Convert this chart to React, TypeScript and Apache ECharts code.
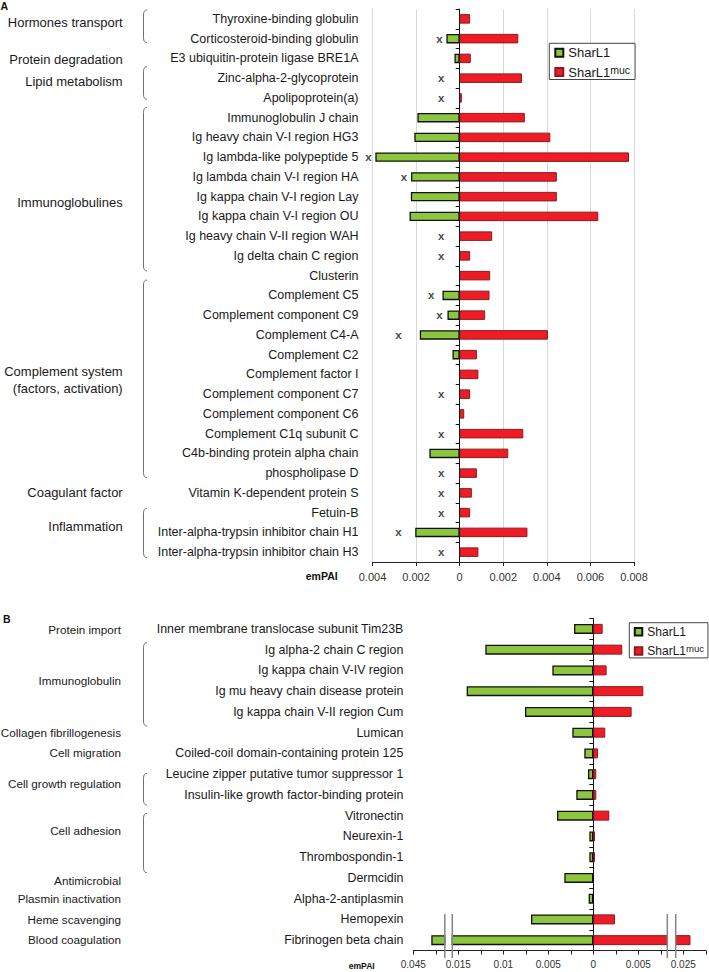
import React, { useEffect, useRef } from 'react';
import * as echarts from 'echarts';

const FONT = '"Liberation Sans", Arial, Helvetica, sans-serif';
const GREEN = '#8CC63F';
const RED = '#EE1C25';

// ---------------- Panel A data ----------------
const categoriesA = [
  'Thyroxine-binding globulin',
  'Corticosteroid-binding globulin',
  'E3 ubiquitin-protein ligase BRE1A',
  'Zinc-alpha-2-glycoprotein',
  'Apolipoprotein(a)',
  'Immunoglobulin J chain',
  'Ig heavy chain V-I region HG3',
  'Ig lambda-like polypeptide 5',
  'Ig lambda chain V-I region HA',
  'Ig kappa chain V-I region Lay',
  'Ig kappa chain V-I region OU',
  'Ig heavy chain V-II region WAH',
  'Ig delta chain C region',
  'Clusterin',
  'Complement C5',
  'Complement component C9',
  'Complement C4-A',
  'Complement C2',
  'Complement factor I',
  'Complement component C7',
  'Complement component C6',
  'Complement C1q subunit C',
  'C4b-binding protein alpha chain',
  'phospholipase D',
  'Vitamin K-dependent protein S',
  'Fetuin-B',
  'Inter-alpha-trypsin inhibitor chain H1',
  'Inter-alpha-trypsin inhibitor chain H3',
];
// emPAI of SharL1 (drawn to the left)
const sharL1A: (number | null)[] = [
  null, 0.00061, 0.00024, null, null, 0.00194, 0.00208, 0.00387, 0.00223, 0.00224,
  0.0023, null, null, null, 0.00079, 0.00056, 0.00183, 0.00033, null, null,
  null, null, 0.00139, null, null, null, 0.00204, null,
];
// emPAI of SharL1muc (drawn to the right)
const sharL1mucA: (number | null)[] = [
  0.00048, 0.00269, 0.00051, 0.00286, 0.0001, 0.00299, 0.00416, 0.00777, 0.00446, 0.00446,
  0.00636, 0.00149, 0.00048, 0.0014, 0.00137, 0.00117, 0.00405, 0.00079, 0.00086, 0.00048,
  0.00021, 0.00292, 0.00223, 0.00079, 0.00056, 0.00048, 0.00311, 0.00086,
];
// "x" marks (position on the emPAI axis)
const xMarksA: (number | null)[] = [
  null, -0.00093, null, -0.00085, -0.00085, null, null, -0.00419, -0.00256, null,
  null, -0.00085, -0.00085, null, -0.00131, -0.00093, -0.00281, null, null, -0.00085,
  null, -0.00085, null, -0.00085, -0.00085, -0.00085, -0.00281, -0.00085,
];
const axisMinA = -0.004;
const axisMaxA = 0.008;
const axisStepA = 0.002;

// ---------------- Panel B data ----------------
const categoriesB = [
  'Inner membrane translocase subunit Tim23B',
  'Ig alpha-2 chain C region',
  'Ig kappa chain V-IV region',
  'Ig mu heavy chain disease protein',
  'Ig kappa chain V-II region Cum',
  'Lumican',
  'Coiled-coil domain-containing protein 125',
  'Leucine zipper putative tumor suppressor 1',
  'Insulin-like growth factor-binding protein',
  'Vitronectin',
  'Neurexin-1',
  'Thrombospondin-1',
  'Dermcidin',
  'Alpha-2-antiplasmin',
  'Hemopexin',
  'Fibrinogen beta chain',
];
const sharL1B: (number | null)[] = [
  0.00214, 0.012, 0.00455, 0.01407, 0.00759, 0.00233, 0.001, 0.00059, 0.00189, 0.00403,
  0.00044, 0.00044, 0.00322, 0.00052, 0.00692, 0.043,
];
const sharL1mucB: (number | null)[] = [
  0.00104, 0.00322, 0.00148, 0.00556, 0.00426, 0.00133, 0.00052, 0.00033, 0.00033, 0.00178,
  0.00019, 0.00019, null, null, 0.00241, 0.0258,
];
// broken axis: tick and label values of the three segments
const ticksBLeft = [-0.045, -0.0425];
const labelsBLeft = [-0.045];
const ticksBMain = [-0.015, -0.0125, -0.01, -0.0075, -0.005, -0.0025, 0, 0.0025, 0.005, 0.0075];
const labelsBMain = [-0.015, -0.01, -0.005, 0, 0.005];
const ticksBRight = [0.025, 0.0275];
const labelsBRight = [0.025];

// ---------------- Annotation text ----------------
const groupsA = [
  { text: 'Hormones transport', y: 22 },
  { text: 'Protein degradation', y: 59 },
  { text: 'Lipid metabolism', y: 81.5 },
  { text: 'Immunoglobulines', y: 202 },
  { text: 'Complement system\n(factors, activation)', y: 379.5 },
  { text: 'Coagulant factor', y: 492.5 },
  { text: 'Inflammation', y: 526.5 },
];
const bracketsA = [
  [10, 42.7], [66.7, 99.3], [107.3, 271], [280, 477.7], [508.3, 557.7],
];
const groupsB = [
  { text: 'Protein import', y: 629.3 },
  { text: 'Immunoglobulin', y: 680 },
  { text: 'Collagen fibrillogenesis', y: 732.7 },
  { text: 'Cell migration', y: 752.5 },
  { text: 'Cell growth regulation', y: 783 },
  { text: 'Cell adhesion', y: 830.7 },
  { text: 'Antimicrobial', y: 880.7 },
  { text: 'Plasmin inactivation', y: 898.3 },
  { text: 'Heme scavenging', y: 919.3 },
  { text: 'Blood coagulation', y: 939.5 },
];
const bracketsB = [
  [642.7, 726], [773.3, 805], [813.3, 872.7],
];

// ---------------- Layout ----------------
const GA = { left: 372.5, top: 9, width: 261.5, height: 553 };
const B_TOP = 618.5;
const B_H = 332;
const B_ZERO_PX = 593.3;
const B_PX_PER_UNIT = 9000;
const BL = { left: 413.3, width: 31.5 };
const BM = { left: 452.3, width: 215 };
const BR = { left: 675.7, width: 30.1 };
const BR_ANCHOR_PX = 683.3; // position of 0.025

const absFmt = (v: number) => String(Math.abs(+Number(v).toFixed(5)));

function bracket(x: number, y0: number, y1: number) {
  const st = { stroke: '#6e6e6e', lineWidth: 1, fill: null as any };
  return {
    type: 'group',
    children: [
      { type: 'bezierCurve', shape: { x1: x + 3.5, y1: y0, cpx1: x, cpy1: y0, x2: x, y2: y0 + 5 }, style: st },
      { type: 'line', shape: { x1: x, y1: y0 + 5, x2: x, y2: y1 - 5 }, style: st },
      { type: 'bezierCurve', shape: { x1: x, y1: y1 - 5, cpx1: x, cpy1: y1, x2: x + 3.5, y2: y1 }, style: st },
    ],
  };
}

function groupText(text: string, x: number, y: number, size: number) {
  return {
    type: 'text',
    x,
    y,
    style: {
      text,
      fontFamily: FONT,
      fontSize: size,
      lineHeight: 17,
      fill: '#1a1a1a',
      align: 'right',
      verticalAlign: 'middle',
    },
  };
}

function buildOption() {
  const greenStyle = { color: GREEN, borderColor: '#111', borderWidth: 1.3 };
  const redStyle = { color: RED, borderColor: '#8e1a1e', borderWidth: 1 };
  const neg = (arr: (number | null)[]) => arr.map((v) => (v == null ? '-' : -v));
  const pos = (arr: (number | null)[]) => arr.map((v) => (v == null ? '-' : v));

  const bMainMin = (BM.left - B_ZERO_PX) / B_PX_PER_UNIT;
  const bMainMax = (BM.left + BM.width - B_ZERO_PX) / B_PX_PER_UNIT;
  const bLeftMin = labelsBLeft[0];
  const bLeftMax = bLeftMin + BL.width / B_PX_PER_UNIT;
  const bRightMin = labelsBRight[0] - (BR_ANCHOR_PX - BR.left) / B_PX_PER_UNIT;
  const bRightMax = bRightMin + BR.width / B_PX_PER_UNIT;

  const xAxisB = (gridIndex: number, min: number, max: number, ticks: number[], labels: number[]) => ({
    type: 'value',
    gridIndex,
    min,
    max,
    axisLine: { show: true, onZero: false, lineStyle: { color: '#222', width: 1 } },
    axisTick: { show: true, length: 4, customValues: ticks, lineStyle: { color: '#222' } },
    axisLabel: {
      customValues: labels,
      formatter: absFmt,
      fontFamily: FONT,
      fontSize: 10,
      color: '#333',
      margin: 9,
    },
    splitLine: { show: false },
  });

  const labelAxis = (gridIndex: number, data: string[], margin: number, size: number) => ({
    type: 'category',
    gridIndex,
    position: 'left',
    inverse: true,
    data,
    axisLine: { show: false, onZero: false },
    axisTick: { show: false },
    axisLabel: { margin, fontFamily: FONT, fontSize: size, color: '#1a1a1a' },
  });
  const zeroAxis = (gridIndex: number, data: string[]) => ({
    type: 'category',
    gridIndex,
    position: 'left',
    inverse: true,
    data,
    axisLine: { show: true, onZero: true, lineStyle: { color: '#111', width: 1 } },
    axisTick: { show: true, length: 4, lineStyle: { color: '#111' } },
    axisLabel: { show: false },
  });

  const legend = (left: number, top: number, big: number, small: number, lh: number, gap: number, pad: number[], iw: number) => ({
    orient: 'vertical',
    left,
    top,
    data: ['SharL1', 'SharL1muc'],
    icon: 'rect',
    itemWidth: iw,
    itemHeight: iw,
    itemGap: gap,
    padding: pad,
    borderColor: '#444',
    borderWidth: 1,
    backgroundColor: '#fff',
    selectedMode: false,
    formatter: (name: string) => (name === 'SharL1muc' ? '{m|SharL1}{s|muc}' : '{m|SharL1}'),
    textStyle: {
      fontFamily: FONT,
      color: '#1a1a1a',
      rich: {
        m: { fontFamily: FONT, fontSize: big, lineHeight: lh, verticalAlign: 'middle', color: '#1a1a1a' },
        s: { fontFamily: FONT, fontSize: small, lineHeight: 2, verticalAlign: 'top', color: '#1a1a1a' },
      },
    },
  });

  const yGap = B_TOP + B_H;
  const breakX = [BL.left + BL.width, BM.left, BM.left + BM.width, BR.left];

  const graphic: any[] = [
    { type: 'text', x: 0.5, y: 6, style: { text: 'A', fontFamily: FONT, fontWeight: 'bold', fontSize: 10.5, fill: '#111', verticalAlign: 'middle' } },
    { type: 'text', x: 3, y: 619, style: { text: 'B', fontFamily: FONT, fontWeight: 'bold', fontSize: 10.5, fill: '#111', verticalAlign: 'middle' } },
    { type: 'text', x: 321.7, y: 576, style: { text: 'emPAI', fontFamily: FONT, fontWeight: 'bold', fontSize: 10.5, fill: '#111', align: 'center', verticalAlign: 'middle' } },
    { type: 'text', x: 361.7, y: 965.5, style: { text: 'emPAI', fontFamily: FONT, fontWeight: 'bold', fontSize: 8.6, fill: '#111', align: 'center', verticalAlign: 'middle' } },
    ...groupsA.map((g) => groupText(g.text, 122.7, g.y, 13)),
    ...groupsB.map((g) => groupText(g.text, 121, g.y, 11.7)),
    ...bracketsA.map(([a, b]) => bracket(143.5, a, b)),
    ...bracketsB.map(([a, b]) => bracket(143.5, a, b)),
    { type: 'line', z: 50, shape: { x1: breakX[0], y1: yGap, x2: breakX[1], y2: yGap }, style: { stroke: '#222', lineWidth: 1 } },
    { type: 'line', z: 50, shape: { x1: breakX[2], y1: yGap, x2: breakX[3], y2: yGap }, style: { stroke: '#222', lineWidth: 1 } },
    ...breakX.map((x) => ({ type: 'line', z: 100, shape: { x1: x, y1: 914, x2: x, y2: 958 }, style: { stroke: '#858585', lineWidth: 1.5 } })),
  ];

  const barsB = (xi: number, yi: number) => [
    { name: 'SharL1', type: 'bar', xAxisIndex: xi, yAxisIndex: yi, data: neg(sharL1B), barWidth: 10, barGap: '-100%', itemStyle: greenStyle, clip: true },
    { name: 'SharL1muc', type: 'bar', xAxisIndex: xi, yAxisIndex: yi, data: pos(sharL1mucB), barWidth: 10, barGap: '-100%', itemStyle: redStyle, clip: true },
  ];

  return {
    animation: false,
    backgroundColor: '#fff',
    textStyle: { fontFamily: FONT },
    grid: [
      { left: GA.left, top: GA.top, width: GA.width, height: GA.height },
      { left: BL.left, top: B_TOP, width: BL.width, height: B_H },
      { left: BM.left, top: B_TOP, width: BM.width, height: B_H },
      { left: BR.left, top: B_TOP, width: BR.width, height: B_H },
    ],
    xAxis: [
      {
        type: 'value',
        gridIndex: 0,
        min: axisMinA,
        max: axisMaxA,
        interval: axisStepA,
        axisLine: { show: true, onZero: false, lineStyle: { color: '#222', width: 1 } },
        axisTick: { show: true, length: 4, lineStyle: { color: '#222' } },
        axisLabel: { formatter: absFmt, fontFamily: FONT, fontSize: 11, color: '#333', margin: 9 },
        splitLine: { show: true, lineStyle: { color: '#d9d9d9', width: 1 } },
      },
      xAxisB(1, bLeftMin, bLeftMax, ticksBLeft, labelsBLeft),
      xAxisB(2, bMainMin, bMainMax, ticksBMain, labelsBMain),
      xAxisB(3, bRightMin, bRightMax, ticksBRight, labelsBRight),
    ],
    yAxis: [
      labelAxis(0, categoriesA, 14, 12.5),
      zeroAxis(0, categoriesA),
      labelAxis(1, categoriesB, 10, 12.4),
      zeroAxis(2, categoriesB),
      { type: 'category', gridIndex: 3, inverse: true, data: categoriesB, show: false, axisLine: { onZero: false } },
    ],
    legend: [
      legend(549.3, 43.3, 13, 10.5, 16, 4.7, [3, 5, 1, 5], 8),
      legend(629.3, 622.7, 12, 9.5, 15, 5.7, [3, 4, 1, 4.5], 7.5),
    ],
    series: [
      { name: 'SharL1', type: 'bar', xAxisIndex: 0, yAxisIndex: 0, data: neg(sharL1A), barWidth: 9.5, barGap: '-100%', itemStyle: greenStyle },
      { name: 'SharL1muc', type: 'bar', xAxisIndex: 0, yAxisIndex: 0, data: pos(sharL1mucA), barWidth: 9.5, barGap: '-100%', itemStyle: redStyle },
      {
        name: 'marks',
        type: 'scatter',
        xAxisIndex: 0,
        yAxisIndex: 0,
        clip: false,
        silent: true,
        z: 5,
        symbol: 'rect',
        symbolSize: 0.01,
        itemStyle: { color: 'transparent' },
        data: xMarksA.map((v, i) => (v == null ? null : [v, i])).filter((d) => d != null),
        label: {
          show: true,
          position: 'inside',
          formatter: 'x',
          fontFamily: FONT,
          fontWeight: 'bold',
          fontSize: 11.5,
          color: '#111',
        },
      },
      ...barsB(1, 2),
      ...barsB(2, 3),
      ...barsB(3, 4),
    ],
    graphic,
  };
}

export default function App() {
  const ref = useRef<HTMLDivElement>(null);
  useEffect(() => {
    const chart = echarts.init(ref.current!, null, { renderer: 'svg', width: 709, height: 972 });
    chart.setOption(buildOption() as any);
    return () => chart.dispose();
  }, []);
  return (
    <div
      ref={ref}
      style={{ position: 'absolute', left: 0, top: 0, width: 709, height: 972, background: '#fff' }}
    />
  );
}
